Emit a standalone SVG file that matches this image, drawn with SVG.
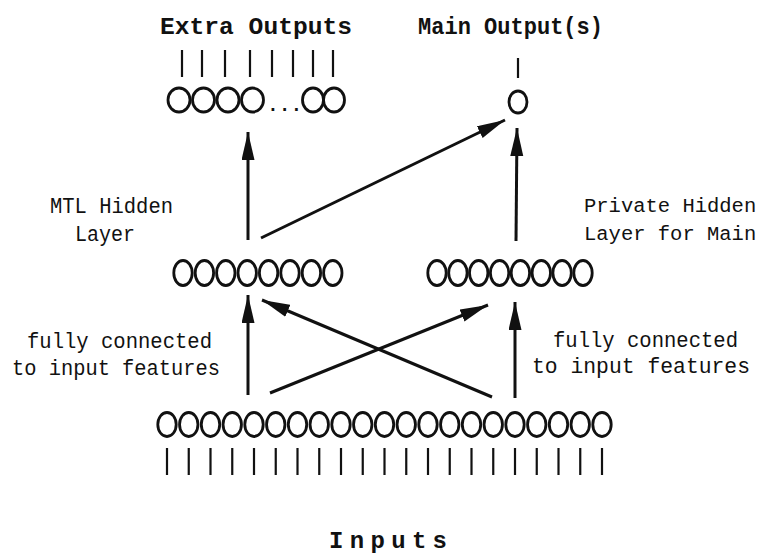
<svg xmlns="http://www.w3.org/2000/svg" width="761" height="560" viewBox="0 0 761 560">
<style>
.title{font-family:"Liberation Mono","DejaVu Sans Mono",monospace;font-weight:bold;font-size:24px;fill:#111}
.lbl{font-family:"Liberation Mono","DejaVu Sans Mono",monospace;font-size:22px;fill:#111}
.lbl2{font-family:"Liberation Mono","DejaVu Sans Mono",monospace;font-size:20.5px;fill:#111}
.unit{fill:none;stroke:#111;stroke-width:2.8}
.bar{stroke:#111;stroke-width:2.2}
.conn{stroke:#111;stroke-width:3;fill:none}
</style>
<defs>
<marker id="ah" markerUnits="userSpaceOnUse" markerWidth="30" markerHeight="14" refX="28" refY="6.5" orient="auto">
<path d="M0,0 L28,6.5 L0,13 z" fill="#111"/>
</marker>
</defs>
<rect width="761" height="560" fill="#fff"/>

<text class="title" x="160" y="34" textLength="192" lengthAdjust="spacingAndGlyphs">Extra Outputs</text>
<text class="title" x="418" y="34" textLength="185" lengthAdjust="spacingAndGlyphs">Main Output(s)</text>

<g id="extra-outputs">
<g class="bar">
<line x1="182" y1="50" x2="182" y2="77"/><line x1="202" y1="50" x2="202" y2="77"/>
<line x1="225" y1="50" x2="225" y2="77"/><line x1="250" y1="50" x2="250" y2="77"/>
<line x1="272" y1="50" x2="272" y2="77"/><line x1="293" y1="50" x2="293" y2="77"/>
<line x1="313" y1="50" x2="313" y2="77"/><line x1="333" y1="50" x2="333" y2="77"/>
</g>
<g class="unit">
<ellipse cx="179" cy="100" rx="11" ry="12"/><ellipse cx="203.5" cy="100" rx="11" ry="12"/>
<ellipse cx="228" cy="100" rx="11" ry="12"/><ellipse cx="252.5" cy="100" rx="11" ry="12"/>
<ellipse cx="313" cy="100" rx="10.5" ry="12"/><ellipse cx="334" cy="100" rx="10.5" ry="12"/>
</g>
<text x="269" y="111" font-family="Liberation Sans, Arial, sans-serif" font-size="28" fill="#111" letter-spacing="4">...</text>
</g>

<g id="main-output">
<line class="bar" x1="518" y1="58" x2="518" y2="78"/>
<ellipse class="unit" cx="518" cy="102" rx="9" ry="11"/>
</g>

<g id="mtl-hidden">
<g class="unit">
<ellipse cx="183" cy="273" rx="9.2" ry="12.5"/><ellipse cx="204.4" cy="273" rx="9.2" ry="12.5"/>
<ellipse cx="225.8" cy="273" rx="9.2" ry="12.5"/><ellipse cx="247.2" cy="273" rx="9.2" ry="12.5"/>
<ellipse cx="268.6" cy="273" rx="9.2" ry="12.5"/><ellipse cx="290" cy="273" rx="9.2" ry="12.5"/>
<ellipse cx="311.4" cy="273" rx="9.2" ry="12.5"/><ellipse cx="332.8" cy="273" rx="9.2" ry="12.5"/>
</g>
<text class="lbl" x="50" y="213" textLength="123" lengthAdjust="spacingAndGlyphs">MTL Hidden</text>
<text class="lbl" x="75" y="241" textLength="60" lengthAdjust="spacingAndGlyphs">Layer</text>
</g>

<g id="private-hidden">
<g class="unit">
<ellipse cx="437" cy="273" rx="9.2" ry="12.5"/><ellipse cx="457.9" cy="273" rx="9.2" ry="12.5"/>
<ellipse cx="478.7" cy="273" rx="9.2" ry="12.5"/><ellipse cx="499.6" cy="273" rx="9.2" ry="12.5"/>
<ellipse cx="520.4" cy="273" rx="9.2" ry="12.5"/><ellipse cx="541.3" cy="273" rx="9.2" ry="12.5"/>
<ellipse cx="562.1" cy="273" rx="9.2" ry="12.5"/><ellipse cx="583" cy="273" rx="9.2" ry="12.5"/>
</g>
<text class="lbl2" x="584" y="212">Private Hidden</text>
<text class="lbl2" x="584" y="240">Layer for Main</text>
</g>

<g id="inputs">
<g class="unit">
<ellipse cx="167" cy="424.5" rx="9.2" ry="12"/><ellipse cx="188.75" cy="424.5" rx="9.2" ry="12"/>
<ellipse cx="210.5" cy="424.5" rx="9.2" ry="12"/><ellipse cx="232.25" cy="424.5" rx="9.2" ry="12"/>
<ellipse cx="254" cy="424.5" rx="9.2" ry="12"/><ellipse cx="275.75" cy="424.5" rx="9.2" ry="12"/>
<ellipse cx="297.5" cy="424.5" rx="9.2" ry="12"/><ellipse cx="319.25" cy="424.5" rx="9.2" ry="12"/>
<ellipse cx="341" cy="424.5" rx="9.2" ry="12"/><ellipse cx="362.75" cy="424.5" rx="9.2" ry="12"/>
<ellipse cx="384.5" cy="424.5" rx="9.2" ry="12"/><ellipse cx="406.25" cy="424.5" rx="9.2" ry="12"/>
<ellipse cx="428" cy="424.5" rx="9.2" ry="12"/><ellipse cx="449.75" cy="424.5" rx="9.2" ry="12"/>
<ellipse cx="471.5" cy="424.5" rx="9.2" ry="12"/><ellipse cx="493.25" cy="424.5" rx="9.2" ry="12"/>
<ellipse cx="515" cy="424.5" rx="9.2" ry="12"/><ellipse cx="536.75" cy="424.5" rx="9.2" ry="12"/>
<ellipse cx="558.5" cy="424.5" rx="9.2" ry="12"/><ellipse cx="580.25" cy="424.5" rx="9.2" ry="12"/>
<ellipse cx="602" cy="424.5" rx="9.2" ry="12"/>
</g>
<g class="bar">
<line x1="167" y1="448" x2="167" y2="475"/><line x1="188.75" y1="448" x2="188.75" y2="475"/>
<line x1="210.5" y1="448" x2="210.5" y2="475"/><line x1="232.25" y1="448" x2="232.25" y2="475"/>
<line x1="254" y1="448" x2="254" y2="475"/><line x1="275.75" y1="448" x2="275.75" y2="475"/>
<line x1="297.5" y1="448" x2="297.5" y2="475"/><line x1="319.25" y1="448" x2="319.25" y2="475"/>
<line x1="341" y1="448" x2="341" y2="475"/><line x1="362.75" y1="448" x2="362.75" y2="475"/>
<line x1="384.5" y1="448" x2="384.5" y2="475"/><line x1="406.25" y1="448" x2="406.25" y2="475"/>
<line x1="428" y1="448" x2="428" y2="475"/><line x1="449.75" y1="448" x2="449.75" y2="475"/>
<line x1="471.5" y1="448" x2="471.5" y2="475"/><line x1="493.25" y1="448" x2="493.25" y2="475"/>
<line x1="515" y1="448" x2="515" y2="475"/><line x1="536.75" y1="448" x2="536.75" y2="475"/>
<line x1="558.5" y1="448" x2="558.5" y2="475"/><line x1="580.25" y1="448" x2="580.25" y2="475"/>
<line x1="602" y1="448" x2="602" y2="475"/>
</g>
<text class="lbl" x="27" y="348" textLength="185" lengthAdjust="spacingAndGlyphs">fully connected</text>
<text class="lbl" x="12" y="375" textLength="208" lengthAdjust="spacingAndGlyphs">to input features</text>
<text class="lbl" x="553" y="347" textLength="185" lengthAdjust="spacingAndGlyphs">fully connected</text>
<text class="lbl" x="532" y="373" textLength="218" lengthAdjust="spacingAndGlyphs">to input features</text>
<text class="title" x="329" y="548" textLength="118" lengthAdjust="spacing">Inputs</text>
</g>

<g id="connectors" class="conn">
<line x1="248" y1="240" x2="248" y2="132" marker-end="url(#ah)"/>
<line x1="261" y1="238" x2="505" y2="120" marker-end="url(#ah)"/>
<line x1="516" y1="241" x2="517" y2="128" marker-end="url(#ah)"/>
<line x1="248" y1="395" x2="248" y2="295" marker-end="url(#ah)"/>
<line x1="492" y1="397" x2="262" y2="300" marker-end="url(#ah)"/>
<line x1="270" y1="393" x2="488" y2="305" marker-end="url(#ah)"/>
<line x1="515" y1="398" x2="515" y2="302" marker-end="url(#ah)"/>
</g>
</svg>
